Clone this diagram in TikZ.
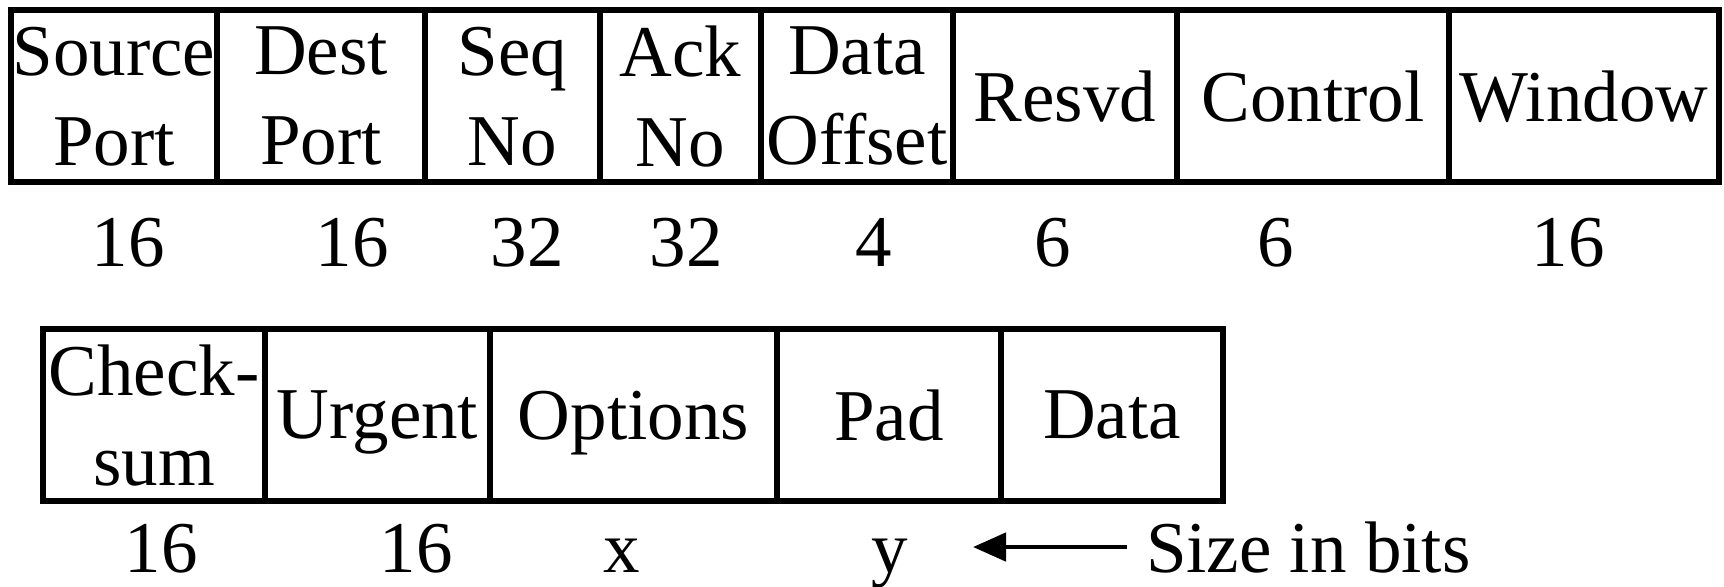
\documentclass[tikz,border=0pt]{standalone}
\usepackage{fontspec}
\setmainfont{Liberation Serif}
\usetikzlibrary{positioning,arrows.meta}

\begin{document}
\begin{tikzpicture}[
  x=0.5pt, y=-0.5pt,
  font=\fontsize{36.5}{45}\selectfont,
  every node/.style={inner sep=0pt, outer sep=0pt},
  field/.style={draw, line width=2.6pt, minimum height=86pt, text depth=0pt, align=center},
  bits/.style={anchor=base},
  sizearrow/.style={line width=2.4pt, -{Triangle[length=16.5pt, width=14pt]}}
]
\useasboundingbox (0,0) rectangle (1724,587);

% first row of the header
\node[field, minimum width=103pt] (src) at (114,96) {Source\\Port};
\node[field, minimum width=104pt, right=0pt of src] (dst) {Dest\\Port};
\node[field, minimum width=87.5pt, right=0pt of dst] (seq) {Seq\\No};
\node[field, minimum width=80.5pt, right=0pt of seq] (ack) {Ack\\No};
\node[field, minimum width=96pt, right=0pt of ack] (off) {Data\\Offset};
\node[field, minimum width=112pt, right=0pt of off] (resvd) {Resvd};
\node[field, minimum width=136pt, right=0pt of resvd] (ctrl) {Control};
\node[field, minimum width=135pt, right=0pt of ctrl] (win) {Window};

\foreach \x/\n [count=\i] in {128/16, 352/16, 527/32, 686/32, 874/4, 1053/6, 1276/6, 1568/16}
  \node[bits] (top\i) at (\x,267) {\n};

% second row
\node[field, minimum width=111pt] (chk) at (154,415) {Check-\\sum};
\node[field, minimum width=112.5pt, right=0pt of chk] (urg) {Urgent};
\node[field, minimum width=143.5pt, right=0pt of urg] (opt) {Options};
\node[field, minimum width=112pt, right=0pt of opt] (pad) {Pad};
\node[field, minimum width=111pt, right=0pt of pad] (data) {Data};

\foreach \x/\n [count=\i] in {161/16, 416/16, 621.5/x, 890/y}
  \node[bits] (bot\i) at (\x,572) {\n};

\node[anchor=base west] (size) at (1146,572) {Size in bits};
\coordinate (tip) at (973,550);
\draw[sizearrow] ([xshift=-9.5pt]size.west) -- (tip |- size.west);

\end{tikzpicture}
\end{document}
